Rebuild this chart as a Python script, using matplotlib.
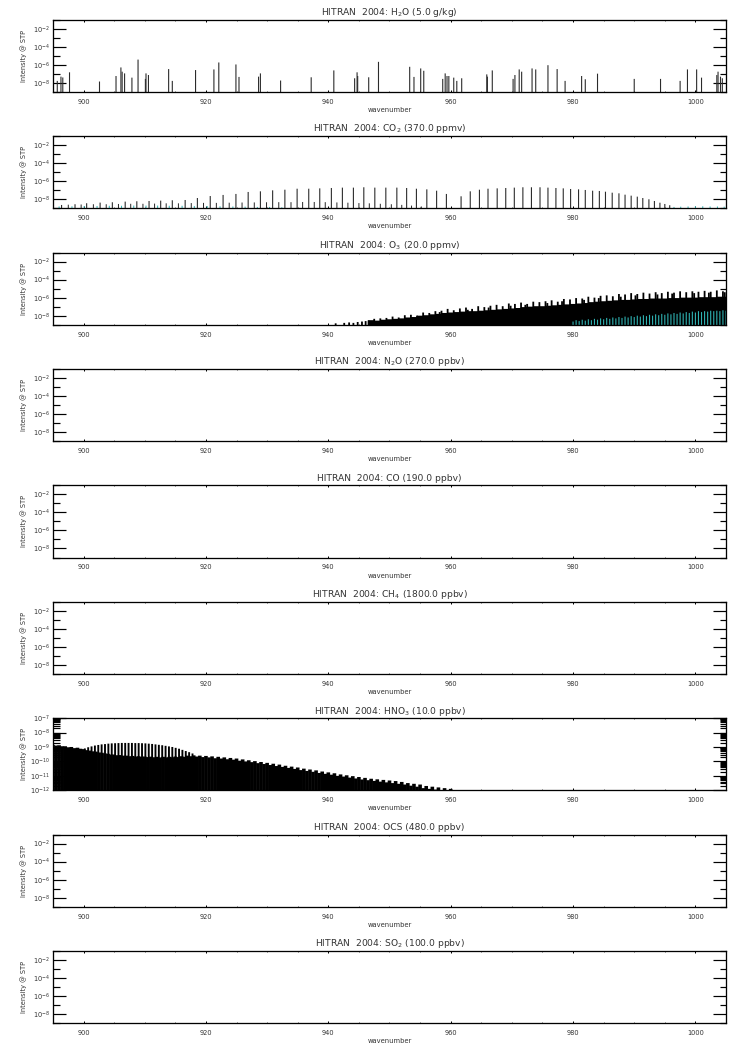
import numpy as np
import matplotlib
matplotlib.use("Agg")
import matplotlib.pyplot as plt
from matplotlib.ticker import FixedLocator, FixedFormatter, NullFormatter, LogLocator

# ---------------------------------------------------------------- panel titles
titles = [
    "HITRAN  2004: H$_2$O (5.0 g/kg)",
    "HITRAN  2004: CO$_2$ (370.0 ppmv)",
    "HITRAN  2004: O$_3$ (20.0 ppmv)",
    "HITRAN  2004: N$_2$O (270.0 ppbv)",
    "HITRAN  2004: CO (190.0 ppbv)",
    "HITRAN  2004: CH$_4$ (1800.0 ppbv)",
    "HITRAN  2004: HNO$_3$ (10.0 ppbv)",
    "HITRAN  2004: OCS (480.0 ppbv)",
    "HITRAN  2004: SO$_2$ (100.0 ppbv)",
]
x_ticks = [900, 920, 940, 960, 980, 1000]
x_tick_labels = ["900", "920", "940", "960", "980", "1000"]
y_ticks = [1e-8, 1e-6, 1e-4, 1e-2]
y_tick_labels = ["$10^{-8}$", "$10^{-6}$", "$10^{-4}$", "$10^{-2}$"]
hno3_y_ticks = [1e-12, 1e-11, 1e-10, 1e-9, 1e-8, 1e-7]
hno3_y_tick_labels = ["$10^{-12}$", "$10^{-11}$", "$10^{-10}$",
                      "$10^{-9}$", "$10^{-8}$", "$10^{-7}$"]

# ---------------------------------------------------------------- H2O lines (log10 intensity)
h2o_wn = [895.7, 896.3, 896.6, 897.7, 902.6, 905.3, 906.1, 906.3, 906.7, 907.9,
          908.9, 910.1, 910.2, 910.6, 913.9, 914.5, 918.3, 921.3, 922.1, 924.9,
          925.4, 928.6, 928.9, 932.2, 937.2, 940.9, 944.3, 944.7, 944.8, 946.6,
          948.2, 953.3, 954.0, 955.1, 955.6, 958.7, 959.1, 959.4, 959.7, 960.5,
          961.0, 961.8, 965.9, 966.0, 966.8, 970.2, 970.5, 971.2, 971.6, 973.3,
          973.9, 975.9, 977.4, 978.7, 981.4, 982.0, 984.0, 990.0, 994.3, 997.5,
          998.7, 1000.2, 1001.0, 1003.5, 1003.7, 1004.1, 1004.4]
h2o_log = [-7.78, -7.31, -7.40, -6.83, -7.85, -7.24, -6.29, -6.76, -6.95, -7.42,
           -5.42, -7.56, -6.95, -7.13, -6.47, -7.78, -6.58, -6.51, -5.74, -5.96,
           -7.34, -7.31, -6.95, -7.74, -7.38, -6.62, -7.49, -6.83, -7.24, -7.38,
           -5.67, -6.22, -7.34, -6.40, -6.66, -7.56, -6.95, -7.24, -7.24, -7.42,
           -7.78, -7.49, -7.06, -7.31, -6.62, -7.56, -7.13, -6.51, -6.76, -6.40,
           -6.51, -6.04, -6.47, -7.78, -7.24, -7.60, -6.98, -7.56, -7.56, -7.78,
           -6.51, -6.51, -7.42, -7.13, -6.76, -7.31, -7.49]

# ---------------------------------------------------------------- CO2 lines
co2_main_wn = [896.4, 898.6, 900.5, 902.7, 904.7, 906.8, 908.7, 910.7, 912.6, 914.5,
               916.6, 918.6, 920.7, 922.8, 924.9, 926.9, 928.9, 930.9, 932.9, 934.9,
               936.8, 938.6, 940.5, 942.3, 944.1, 945.8, 947.6, 949.4, 951.2, 952.8,
               954.4, 956.1, 957.7, 959.3, 961.7, 963.2, 964.7, 966.1, 967.6, 969.0,
               970.4, 971.8, 973.2, 974.6, 975.9, 977.2, 978.4, 979.6, 980.9, 982.0,
               983.2, 984.3, 985.3, 986.4, 987.5, 988.5, 989.5, 990.5, 991.4, 992.4,
               993.3, 994.2, 995.0, 995.8]
co2_main_log = [-8.63, -8.55, -8.44, -8.37, -8.33, -8.26, -8.22, -8.19, -8.15, -8.11,
                -8.08, -7.86, -7.64, -7.52, -7.41, -7.19, -7.12, -7.01, -6.94, -6.83,
                -6.83, -6.79, -6.75, -6.71, -6.71, -6.67, -6.71, -6.71, -6.71, -6.75,
                -6.83, -6.90, -7.05, -7.41, -7.67, -7.12, -6.94, -6.83, -6.79, -6.75,
                -6.71, -6.67, -6.67, -6.67, -6.71, -6.75, -6.79, -6.86, -6.90, -6.97,
                -7.05, -7.08, -7.16, -7.27, -7.34, -7.49, -7.60, -7.71, -7.86, -8.00,
                -8.19, -8.38, -8.52, -8.66]
co2_weak_wn = [897.5, 899.6, 901.6, 903.7, 905.7, 907.7, 909.7, 911.6, 913.5, 915.5,
               917.6, 919.6, 921.7, 923.8, 925.9, 927.9, 929.9, 931.9, 933.9, 935.8,
               937.7, 939.5, 941.4, 943.2, 945.0, 946.7, 948.5, 950.3, 952.0, 953.6,
               955.2]
co2_weak_log = [-8.60, -8.58, -8.55, -8.55, -8.52, -8.50, -8.50, -8.48, -8.45, -8.45,
                -8.42, -8.40, -8.40, -8.38, -8.36, -8.35, -8.33, -8.32, -8.32, -8.30,
                -8.30, -8.32, -8.35, -8.38, -8.42, -8.45, -8.50, -8.55, -8.62, -8.70,
                -8.80]
co2_iso_wn = [896.0, 898.1, 900.1, 902.2, 904.2, 906.2, 908.2, 910.2, 912.1, 914.0,
              916.1, 918.1, 920.2, 922.3, 924.4, 926.4, 928.4, 930.4, 932.4, 996.5,
              997.6, 998.8, 1000.0, 1001.2, 1002.4, 1003.6, 1004.7]
co2_iso_log = [-8.80, -8.78, -8.75, -8.75, -8.72, -8.72, -8.70, -8.70, -8.70, -8.72,
               -8.72, -8.75, -8.75, -8.78, -8.80, -8.82, -8.85, -8.85, -8.88, -8.85,
               -8.82, -8.80, -8.78, -8.78, -8.80, -8.80, -8.82]

# ---------------------------------------------------------------- O3 lines
# dense band core (one line per cm-1, drawn wide so the core reads as solid)
o3_core_wn = [947.0, 948.0, 949.0, 950.0, 951.0, 952.0, 953.0, 954.0, 955.0, 956.0,
              957.0, 958.0, 959.0, 960.0, 961.0, 962.0, 963.0, 964.0, 965.0, 966.0,
              967.0, 968.0, 969.0, 970.0, 971.0, 972.0, 973.0, 974.0, 975.0, 976.0,
              977.0, 978.0, 979.0, 980.0, 981.0, 982.0, 983.0, 984.0, 985.0, 986.0,
              987.0, 988.0, 989.0, 990.0, 991.0, 992.0, 993.0, 994.0, 995.0, 996.0,
              997.0, 998.0, 999.0, 1000.0, 1001.0, 1002.0, 1003.0, 1004.0, 1005.0]
o3_core_log = [-8.50, -8.55, -8.45, -8.40, -8.35, -8.30, -8.20, -8.15, -8.00, -7.95,
               -7.85, -7.80, -7.70, -7.65, -7.60, -7.55, -7.50, -7.50, -7.45, -7.40,
               -7.35, -7.30, -7.25, -7.20, -7.15, -7.05, -7.00, -6.95, -6.95, -6.90,
               -6.85, -6.80, -6.75, -6.70, -6.65, -6.60, -6.50, -6.45, -6.40, -6.35,
               -6.30, -6.25, -6.25, -6.20, -6.15, -6.15, -6.10, -6.10, -6.10, -6.05,
               -6.05, -6.00, -6.00, -6.00, -5.95, -5.95, -5.95, -5.90, -5.90]
# individual stronger lines
o3_wn = [941.2, 942.6, 943.4, 944.1, 944.8, 945.5, 946.1, 946.6, 947.5, 948.5,
         949.5, 950.5, 951.5, 952.5, 953.5, 954.5, 955.5, 956.5, 957.5, 958.5,
         959.5, 960.5, 961.5, 962.5, 963.5, 964.5, 965.5, 966.5, 967.5, 968.5,
         969.5, 970.5, 971.5, 972.5, 973.5, 974.5, 975.5, 976.5, 977.5, 978.5,
         979.5, 980.5, 981.5, 982.5, 983.5, 984.5, 985.5, 986.5, 987.5, 988.5,
         989.5, 990.5, 991.5, 992.5, 993.5, 994.5, 995.5, 996.5, 997.5, 998.5,
         999.5, 1000.5, 1001.5, 1002.5, 1003.5, 1004.5,
         958.2, 962.8, 966.2, 969.8, 972.2, 975.8, 978.2, 981.8, 984.2, 987.8,
         990.2, 993.8, 996.2, 999.8, 1002.2, 1004.8]
o3_log = [-8.85, -8.80, -8.75, -8.80, -8.70, -8.65, -8.60, -8.55, -8.35, -8.30,
          -8.25, -8.10, -8.20, -7.95, -7.90, -8.00, -7.65, -7.70, -7.50, -7.45,
          -7.25, -7.40, -7.20, -7.10, -7.25, -6.95, -7.05, -6.90, -6.80, -6.95,
          -6.65, -6.70, -6.55, -6.70, -6.45, -6.50, -6.40, -6.30, -6.45, -6.15,
          -6.20, -6.05, -6.10, -5.90, -6.00, -5.80, -5.75, -5.85, -5.60, -5.65,
          -5.50, -5.60, -5.45, -5.55, -5.40, -5.50, -5.35, -5.45, -5.30, -5.40,
          -5.30, -5.35, -5.25, -5.35, -5.20, -5.30,
          -7.60, -7.35, -7.10, -6.90, -6.80, -6.60, -6.40, -6.25, -6.05, -5.90,
          -5.75, -5.65, -5.55, -5.50, -5.45, -5.40]
o3_iso_wn = [980.0, 980.5, 981.0, 981.5, 982.0, 982.5, 983.0, 983.5, 984.0, 984.5,
             985.0, 985.5, 986.0, 986.5, 987.0, 987.5, 988.0, 988.5, 989.0, 989.5,
             990.0, 990.5, 991.0, 991.5, 992.0, 992.5, 993.0, 993.5, 994.0, 994.5,
             995.0, 995.5, 996.0, 996.5, 997.0, 997.5, 998.0, 998.5, 999.0, 999.5,
             1000.0, 1000.5, 1001.0, 1001.5, 1002.0, 1002.5, 1003.0, 1003.5, 1004.0, 1004.5,
             1005.0]
o3_iso_log = [-8.65, -8.50, -8.60, -8.45, -8.55, -8.40, -8.50, -8.35, -8.45, -8.30,
              -8.40, -8.25, -8.35, -8.20, -8.30, -8.15, -8.25, -8.10, -8.20, -8.05,
              -8.15, -8.00, -8.10, -7.95, -8.05, -7.90, -8.00, -7.85, -7.95, -7.80,
              -7.90, -7.75, -7.85, -7.70, -7.80, -7.65, -7.75, -7.60, -7.70, -7.55,
              -7.65, -7.50, -7.60, -7.50, -7.55, -7.45, -7.50, -7.45, -7.50, -7.40,
              -7.45]

# ---------------------------------------------------------------- HNO3 lines
hno3_wn = [895.0, 895.5, 896.0, 896.5, 897.0, 897.5, 898.0, 898.5, 899.0, 899.5,
           900.0, 900.5, 901.0, 901.5, 902.0, 902.5, 903.0, 903.5, 904.0, 904.5,
           905.0, 905.5, 906.0, 906.5, 907.0, 907.5, 908.0, 908.5, 909.0, 909.5,
           910.0, 910.5, 911.0, 911.5, 912.0, 912.5, 913.0, 913.5, 914.0, 914.5,
           915.0, 915.5, 916.0, 916.5, 917.0, 917.5, 918.0, 918.5, 919.0, 919.5,
           920.0, 920.5, 921.0, 921.5, 922.0, 922.5, 923.0, 923.5, 924.0, 924.5,
           925.0, 925.5, 926.0, 926.5, 927.0, 927.5, 928.0, 928.5, 929.0, 929.5,
           930.0, 930.5, 931.0, 931.5, 932.0, 932.5, 933.0, 933.5, 934.0, 934.5,
           935.0, 935.5, 936.0, 936.5, 937.0, 937.5, 938.0, 938.5, 939.0, 939.5,
           940.0, 940.5, 941.0, 941.5, 942.0, 942.5, 943.0, 943.5, 944.0, 944.5,
           945.0, 945.5, 946.0, 946.5, 947.0, 947.5, 948.0, 948.5, 949.0, 949.5,
           950.0, 950.5, 951.0, 951.5, 952.0, 952.5, 953.0, 953.5, 954.0, 954.5,
           955.0, 955.5, 956.0, 956.5, 957.0, 957.5, 958.0, 958.5, 959.0, 959.5,
           960.0]
hno3_log = [-8.85, -8.90, -8.88, -8.95, -8.95, -9.02, -9.00, -9.08, -9.05, -9.12,
            -9.15, -9.22, -9.25, -9.30, -9.32, -9.38, -9.40, -9.45, -9.47, -9.52,
            -9.52, -9.57, -9.56, -9.60, -9.60, -9.64, -9.62, -9.66, -9.64, -9.68,
            -9.66, -9.70, -9.67, -9.71, -9.68, -9.72, -9.68, -9.72, -9.68, -9.71,
            -9.66, -9.70, -9.64, -9.68, -9.60, -9.64, -9.58, -9.66, -9.60, -9.70,
            -9.62, -9.72, -9.65, -9.78, -9.68, -9.80, -9.72, -9.85, -9.76, -9.88,
            -9.80, -9.95, -9.86, -10.00, -9.92, -10.05, -9.98, -10.12, -10.04, -10.18,
            -10.10, -10.25, -10.16, -10.32, -10.22, -10.38, -10.30, -10.45, -10.36, -10.52,
            -10.42, -10.60, -10.50, -10.66, -10.56, -10.72, -10.62, -10.80, -10.70, -10.86,
            -10.76, -10.92, -10.82, -11.00, -10.90, -11.05, -10.96, -11.12, -11.02, -11.18,
            -11.08, -11.25, -11.14, -11.30, -11.20, -11.35, -11.24, -11.40, -11.28, -11.45,
            -11.32, -11.50, -11.36, -11.55, -11.42, -11.60, -11.50, -11.68, -11.55, -11.75,
            -11.60, -11.85, -11.70, -11.90, -11.75, -11.95, -11.80, -12.00, -11.85, -12.00,
            -11.90]
hno3_comb_wn = [900.2, 900.75, 901.3, 901.85, 902.4, 902.95, 903.5, 904.05, 904.6, 905.15,
                905.7, 906.25, 906.8, 907.35, 907.9, 908.45, 909.0, 909.55, 910.1, 910.65,
                911.2, 911.75, 912.3, 912.85, 913.4, 913.95, 914.5, 915.05, 915.6, 916.15,
                916.7, 917.25, 917.8]
hno3_comb_log = [-9.10, -9.02, -8.96, -8.90, -8.86, -8.82, -8.80, -8.77, -8.75, -8.74,
                 -8.73, -8.72, -8.72, -8.72, -8.72, -8.73, -8.73, -8.74, -8.75, -8.77,
                 -8.79, -8.82, -8.85, -8.88, -8.92, -8.96, -9.00, -9.06, -9.12, -9.20,
                 -9.28, -9.36, -9.45]

# ---------------------------------------------------------------- figure layout
W, H, DPI = 734, 1045, 100
PX = 72.0 / DPI                      # points per pixel
LEFT, RIGHT = 53, 726
TOP0, BOT0, STEP = 19.7, 91.9, 116.4
TEXT = "#333333"
LINE = "#2b2b2b"
CYAN = "#2fb3b3"

plt.rcParams["font.family"] = ["DejaVu Sans"]
plt.rcParams["mathtext.fontset"] = "dejavusans"

fig = plt.figure(figsize=(W / DPI, H / DPI), dpi=DPI)
fig.patch.set_facecolor("white")


def make_axes(i, hno3=False):
    top = TOP0 + STEP * i
    bot = BOT0 + STEP * i
    ax = fig.add_axes([LEFT / W, 1 - bot / H, (RIGHT - LEFT) / W, (bot - top) / H])
    ax.set_xlim(895, 1005)
    ax.set_yscale("log")
    if hno3:
        ax.set_ylim(1e-12, 1e-7)
        ax.yaxis.set_major_locator(FixedLocator(hno3_y_ticks))
        ax.yaxis.set_major_formatter(FixedFormatter(hno3_y_tick_labels))
        ax.yaxis.set_minor_locator(LogLocator(base=10, subs=np.arange(2, 10), numticks=20))
    else:
        ax.set_ylim(1e-9, 1e-1)
        ax.yaxis.set_major_locator(FixedLocator(y_ticks))
        ax.yaxis.set_major_formatter(FixedFormatter(y_tick_labels))
        ax.yaxis.set_minor_locator(FixedLocator([1e-9, 1e-7, 1e-5, 1e-3, 1e-1]))
    ax.yaxis.set_minor_formatter(NullFormatter())
    ax.xaxis.set_major_locator(FixedLocator(x_ticks))
    ax.xaxis.set_major_formatter(FixedFormatter(x_tick_labels))
    ax.xaxis.set_minor_locator(FixedLocator(list(range(895, 1006, 5))))
    ax.tick_params(which="both", direction="in", top=True, right=True,
                   colors="black", labelcolor=TEXT, labelsize=4.8)
    ax.tick_params(axis="y", which="major", length=13 * PX, width=1.2 * PX, pad=2.2)
    ax.tick_params(axis="y", which="minor", length=6.5 * PX, width=1.2 * PX)
    ax.tick_params(axis="x", which="major", length=1.6 * PX, width=1.0 * PX, pad=5.0)
    ax.tick_params(axis="x", which="minor", length=0.9 * PX, width=0.8 * PX)
    for sp in ax.spines.values():
        sp.set_linewidth(1.3 * PX)
        sp.set_color("black")
        sp.set_zorder(5)
    h = bot - top
    ax.text(0.5, 1 + 4.6 / h, titles[i], transform=ax.transAxes, ha="center",
            va="baseline", fontsize=6.6, color=TEXT)
    ax.text(0.5, -18.0 / h, "wavenumber", transform=ax.transAxes, ha="center",
            va="center", fontsize=4.9, color=TEXT)
    ax.text(-29.0 / (RIGHT - LEFT), 0.5, "Intensity @ STP", transform=ax.transAxes,
            rotation=90, ha="center", va="center", fontsize=4.8, color=TEXT)
    return ax


def draw_lines(ax, wn, logs, color, lw_px, floor):
    lc = ax.vlines(wn, floor, 10.0 ** np.asarray(logs), colors=color,
                   linewidth=lw_px * PX)
    lc.set_snap(False)
    return lc


axes = [make_axes(i, hno3=(i == 6)) for i in range(9)]

# H2O
draw_lines(axes[0], h2o_wn, h2o_log, LINE, 1.1, 1e-10)
# CO2
draw_lines(axes[1], co2_iso_wn, co2_iso_log, CYAN, 1.0, 1e-10)
draw_lines(axes[1], co2_weak_wn, co2_weak_log, LINE, 1.0, 1e-10)
draw_lines(axes[1], co2_main_wn, co2_main_log, LINE, 1.1, 1e-10)
# O3
draw_lines(axes[2], o3_core_wn, o3_core_log, "black", 6.6, 1e-10)
draw_lines(axes[2], o3_wn, o3_log, "black", 1.8, 1e-10)
draw_lines(axes[2], o3_iso_wn, o3_iso_log, CYAN, 1.1, 1e-10)
# HNO3
draw_lines(axes[6], hno3_wn, hno3_log, "black", 3.6, 1e-13)
draw_lines(axes[6], hno3_comb_wn, hno3_comb_log, "black", 1.9, 1e-13)

fig.savefig("out.png", dpi=DPI, facecolor="white")
